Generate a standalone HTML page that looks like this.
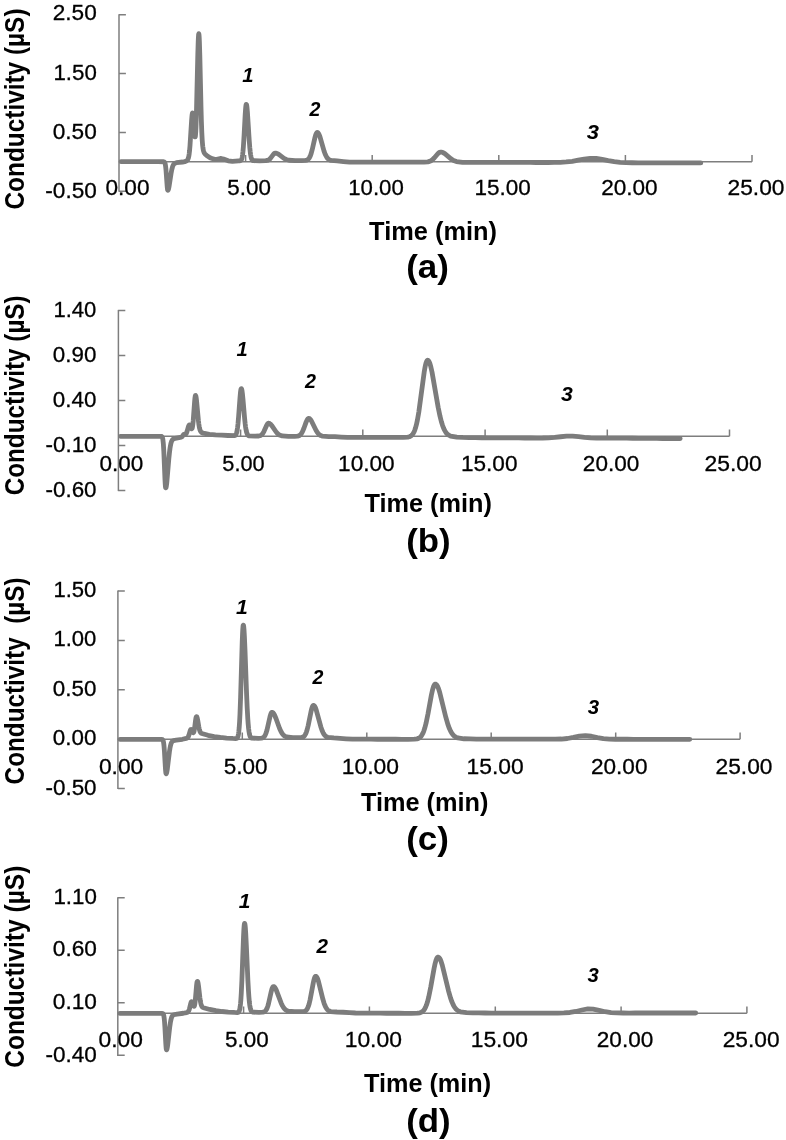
<!DOCTYPE html>
<html lang="en">
<head>
<meta charset="utf-8">
<title>Chromatograms (a)-(d): Conductivity vs Time</title>
<style>
html,body{margin:0;padding:0;background:#fff;}
body{width:786px;height:1140px;overflow:hidden;}
svg{display:block;will-change:transform;font-family:"Liberation Sans",sans-serif;}
</style>
</head>
<body>
<svg width="786" height="1140" viewBox="0 0 786 1140" role="img" aria-label="Four ion chromatograms">
<rect width="786" height="1140" fill="#fff"/>
<g stroke="#7e7e7e" stroke-width="1.5" fill="none">
<path d="M119 14.2V191.8"/>
<path d="M119 161.8H752.0"/>
<path d="M119 14.8h6.9M119 73.6h6.9M119 132.4h6.9M119 191.2h6.9M245.6 161.8v-6.9M372.2 161.8v-6.9M498.8 161.8v-6.9M625.4 161.8v-6.9M752.0 161.8v-6.9"/>
</g>
<path d="M121.0 161.70 L127.0 161.70 L133.2 161.70 L139.4 161.70 L145.6 161.70 L151.8 161.70 L158.0 161.70 L163.6 161.74 L164.0 161.82 L164.2 161.91 L164.4 162.06 L164.6 162.30 L164.8 162.65 L165.0 163.18 L165.2 163.92 L165.4 164.94 L165.6 166.29 L166.0 170.10 L167.2 186.66 L167.4 188.62 L167.6 189.87 L167.8 190.30 L168.0 190.25 L168.2 189.95 L168.4 189.44 L168.6 188.74 L169.0 186.86 L171.2 172.70 L171.8 169.65 L172.4 167.29 L172.8 166.09 L173.2 165.16 L173.6 164.45 L174.0 163.93 L174.4 163.55 L175.0 163.16 L176.4 162.70 L182.6 162.00 L184.8 161.68 L185.8 161.32 L186.6 160.83 L187.2 160.28 L187.6 159.76 L188.0 159.02 L188.4 157.92 L188.8 156.28 L189.2 153.84 L189.6 150.36 L190.0 145.65 L191.6 120.48 L192.0 115.76 L192.2 114.17 L192.4 113.20 L192.6 112.91 L192.8 113.31 L193.0 114.38 L193.2 116.08 L193.6 120.93 L194.4 132.31 L194.6 134.51 L194.8 136.10 L195.0 136.95 L195.2 136.92 L195.4 135.91 L195.6 133.84 L195.8 130.64 L196.0 126.31 L196.4 114.38 L197.8 54.93 L198.2 41.78 L198.4 37.34 L198.6 34.59 L198.8 33.67 L199.0 34.62 L199.2 37.39 L199.4 41.88 L199.8 54.88 L201.0 107.25 L201.4 121.63 L201.8 132.41 L202.2 139.89 L202.4 142.69 L202.6 144.95 L202.8 146.78 L203.0 148.26 L203.2 149.45 L203.4 150.40 L203.6 151.18 L204.0 152.32 L204.4 153.10 L205.0 153.93 L207.0 155.76 L210.0 157.67 L213.0 158.90 L215.0 159.31 L216.6 159.28 L220.2 158.50 L221.2 158.50 L223.6 159.11 L228.2 160.76 L232.4 161.34 L238.6 160.86 L240.0 160.74 L240.4 160.63 L240.8 160.43 L241.0 160.26 L241.2 160.02 L241.4 159.71 L241.6 159.30 L241.8 158.76 L242.0 158.07 L242.2 157.20 L242.6 154.79 L243.0 151.28 L243.4 146.51 L244.0 136.99 L245.2 114.40 L245.6 108.61 L245.8 106.52 L246.0 105.08 L246.2 104.35 L246.4 104.32 L246.6 104.86 L246.8 105.92 L247.0 107.46 L247.4 111.85 L249.2 140.05 L249.8 147.68 L250.2 151.59 L250.6 154.58 L251.0 156.77 L251.4 158.29 L251.8 159.31 L252.0 159.67 L252.4 160.18 L252.8 160.48 L253.4 160.71 L259.6 160.82 L265.8 160.69 L267.4 160.41 L268.4 160.02 L269.2 159.52 L270.2 158.61 L273.4 154.35 L274.0 153.72 L274.4 153.41 L274.8 153.21 L275.2 153.11 L276.2 153.20 L277.2 153.52 L278.8 154.43 L284.0 158.38 L286.2 159.50 L289.0 160.25 L295.2 160.59 L301.4 160.60 L305.4 160.45 L306.6 160.18 L307.4 159.83 L308.0 159.42 L308.6 158.84 L309.2 158.05 L309.8 157.01 L310.4 155.67 L311.2 153.38 L312.2 149.73 L315.0 137.40 L315.6 135.27 L316.0 134.14 L316.4 133.27 L316.6 132.95 L316.8 132.71 L317.0 132.55 L317.2 132.47 L317.4 132.46 L317.6 132.52 L317.8 132.62 L318.2 132.99 L318.6 133.57 L319.2 134.77 L320.0 136.93 L324.0 150.92 L325.2 154.23 L326.2 156.35 L327.0 157.64 L327.8 158.61 L328.6 159.32 L329.6 159.91 L331.0 160.37 L337.2 160.95 L343.4 161.61 L349.6 162.14 L355.8 162.20 L362.0 162.20 L368.2 162.20 L374.4 162.20 L380.6 162.20 L386.8 162.20 L393.0 162.20 L399.2 162.20 L405.4 162.20 L411.6 162.20 L417.8 162.20 L424.0 162.17 L427.8 161.87 L429.6 161.39 L431.0 160.73 L432.4 159.74 L434.4 157.74 L437.8 153.74 L438.8 152.85 L439.6 152.36 L440.2 152.14 L440.8 152.08 L441.8 152.18 L443.0 152.58 L444.8 153.64 L451.0 158.81 L453.6 160.43 L456.4 161.51 L462.6 162.31 L468.8 162.40 L475.0 162.40 L481.2 162.40 L487.4 162.41 L493.6 162.42 L499.8 162.43 L506.0 162.44 L512.2 162.45 L518.2 162.46 L524.2 162.47 L530.2 162.47 L536.2 162.48 L542.2 162.49 L548.2 162.48 L554.2 162.45 L560.2 162.31 L566.2 161.97 L572.2 161.28 L578.2 160.23 L584.2 159.09 L590.2 158.37 L596.2 158.48 L602.2 159.37 L608.2 160.58 L614.2 161.63 L620.2 162.30 L626.2 162.62 L632.2 162.75 L638.2 162.79 L644.2 162.80 L650.2 162.81 L656.2 162.82 L662.2 162.83 L668.2 162.84 L674.2 162.86 L680.2 162.87 L686.2 162.89 L692.2 162.89 L698.2 162.90 L700.8 162.90" fill="none" stroke="#7c7c7c" stroke-width="4.8" stroke-linecap="round" stroke-linejoin="round"/>
<text x="52.77" y="20.48" textLength="44.02" lengthAdjust="spacingAndGlyphs" font-size="22.32" font-weight="400" stroke="#000" stroke-width="0.3" fill="#000">2.50</text>
<text x="53.41" y="79.58" textLength="43.37" lengthAdjust="spacingAndGlyphs" font-size="22.46" font-weight="400" stroke="#000" stroke-width="0.3" fill="#000">1.50</text>
<text x="52.72" y="138.88" textLength="44.07" lengthAdjust="spacingAndGlyphs" font-size="22.32" font-weight="400" stroke="#000" stroke-width="0.3" fill="#000">0.50</text>
<text x="45.31" y="197.78" textLength="51.48" lengthAdjust="spacingAndGlyphs" font-size="22.32" font-weight="400" stroke="#000" stroke-width="0.3" fill="#000">-0.50</text>
<text x="105.42" y="195.47" textLength="44.07" lengthAdjust="spacingAndGlyphs" font-size="22.88" font-weight="400" stroke="#000" stroke-width="0.3" fill="#000">0.00</text>
<text x="227.30" y="195.47" textLength="43.58" lengthAdjust="spacingAndGlyphs" font-size="22.88" font-weight="400" stroke="#000" stroke-width="0.3" fill="#000">5.00</text>
<text x="348.21" y="195.47" textLength="55.56" lengthAdjust="spacingAndGlyphs" font-size="22.88" font-weight="400" stroke="#000" stroke-width="0.3" fill="#000">10.00</text>
<text x="474.49" y="195.47" textLength="56.30" lengthAdjust="spacingAndGlyphs" font-size="22.88" font-weight="400" stroke="#000" stroke-width="0.3" fill="#000">15.00</text>
<text x="601.17" y="195.47" textLength="56.52" lengthAdjust="spacingAndGlyphs" font-size="22.88" font-weight="400" stroke="#000" stroke-width="0.3" fill="#000">20.00</text>
<text x="727.46" y="195.47" textLength="57.04" lengthAdjust="spacingAndGlyphs" font-size="22.88" font-weight="400" stroke="#000" stroke-width="0.3" fill="#000">25.00</text>
<text x="242.17" y="81.80" textLength="11.33" lengthAdjust="spacingAndGlyphs" font-size="20.49" font-weight="700" font-style="italic" fill="#000">1</text>
<text x="309.41" y="116.30" textLength="10.89" lengthAdjust="spacingAndGlyphs" font-size="19.63" font-weight="700" font-style="italic" fill="#000">2</text>
<text x="586.82" y="138.61" textLength="12.22" lengthAdjust="spacingAndGlyphs" font-size="19.49" font-weight="700" font-style="italic" fill="#000">3</text>
<text x="369.12" y="240.00" textLength="127.84" lengthAdjust="spacingAndGlyphs" font-size="25.87" font-weight="700" fill="#000">Time (min)</text>
<text xml:space="preserve" style="white-space:pre" transform="translate(23.70 209.50) rotate(-90)" textLength="201.01" lengthAdjust="spacingAndGlyphs" font-size="26.89" font-weight="700" fill="#000">Conductivity (µS)</text>
<text x="406.15" y="278.16" textLength="42.70" lengthAdjust="spacingAndGlyphs" font-size="33.90" font-weight="700" fill="#000">(a)</text>
<g stroke="#7e7e7e" stroke-width="1.5" fill="none">
<path d="M118.4 309.9V491.1"/>
<path d="M118.4 436.3H729.5"/>
<path d="M118.4 310.5h6.9M118.4 355.5h6.9M118.4 400.5h6.9M118.4 445.5h6.9M118.4 490.5h6.9M240.6 436.3v-6.9M362.8 436.3v-6.9M485.1 436.3v-6.9M607.3 436.3v-6.9M729.5 436.3v-6.9"/>
</g>
<path d="M120.4 436.30 L126.4 436.30 L132.6 436.30 L138.8 436.30 L145.0 436.30 L151.2 436.30 L157.4 436.30 L161.2 436.35 L161.6 436.45 L161.8 436.56 L162.0 436.74 L162.2 437.03 L162.4 437.48 L162.6 438.13 L162.8 439.08 L163.0 440.41 L163.2 442.19 L163.4 444.52 L163.8 451.03 L165.0 479.83 L165.2 483.61 L165.4 486.31 L165.6 487.72 L165.8 487.85 L166.0 487.57 L166.2 486.83 L166.4 485.74 L166.8 482.60 L168.8 459.12 L169.4 453.16 L170.0 448.41 L170.4 445.93 L170.8 443.97 L171.2 442.46 L171.6 441.32 L172.0 440.49 L172.4 439.89 L172.8 439.45 L173.4 439.00 L175.2 438.28 L181.4 437.06 L181.8 436.89 L182.0 436.76 L182.6 436.02 L183.4 434.80 L183.6 434.54 L183.8 434.35 L184.0 434.24 L184.4 434.17 L185.2 434.26 L185.4 434.25 L185.6 434.19 L185.8 434.07 L186.0 433.87 L186.2 433.60 L186.6 432.80 L187.0 431.68 L188.4 426.72 L188.8 425.67 L189.0 425.30 L189.2 425.05 L189.4 424.93 L189.6 424.96 L189.8 425.14 L190.0 425.45 L190.4 426.34 L191.0 427.90 L191.2 428.32 L191.4 428.64 L191.6 428.80 L191.8 428.77 L192.0 428.53 L192.2 428.03 L192.4 427.25 L192.6 426.16 L192.8 424.74 L193.2 420.92 L194.6 401.69 L194.8 399.41 L195.0 397.58 L195.2 396.29 L195.4 395.60 L195.6 395.52 L195.8 395.90 L196.0 396.69 L196.2 397.87 L196.6 401.16 L198.4 420.41 L198.8 423.78 L199.2 426.45 L199.6 428.45 L200.0 429.89 L200.4 430.89 L200.8 431.58 L201.2 432.07 L201.8 432.55 L203.2 433.20 L209.4 434.33 L215.6 434.85 L221.8 435.21 L228.0 435.49 L234.0 435.63 L234.6 435.54 L235.0 435.39 L235.4 435.13 L235.8 434.67 L236.0 434.34 L236.4 433.41 L236.8 432.01 L237.2 430.00 L237.6 427.25 L238.0 423.68 L238.6 416.81 L240.0 397.56 L240.4 393.12 L240.6 391.38 L240.8 390.03 L241.0 389.11 L241.2 388.64 L241.4 388.63 L241.6 388.97 L241.8 389.65 L242.0 390.65 L242.4 393.52 L243.0 399.51 L244.6 418.31 L245.2 424.03 L245.6 427.10 L246.0 429.58 L246.4 431.50 L246.8 432.93 L247.2 433.98 L247.6 434.70 L248.0 435.20 L248.4 435.53 L249.0 435.81 L255.2 436.11 L258.8 436.00 L260.0 435.74 L260.8 435.38 L261.6 434.82 L262.2 434.21 L263.0 433.12 L264.0 431.29 L266.6 425.41 L267.2 424.35 L267.6 423.82 L268.0 423.45 L268.2 423.34 L268.4 423.27 L268.8 423.26 L269.4 423.41 L270.0 423.74 L270.8 424.42 L272.0 425.86 L276.0 431.75 L277.4 433.37 L278.8 434.55 L280.2 435.33 L282.2 435.95 L288.4 436.34 L294.6 436.34 L297.4 436.15 L298.6 435.84 L299.4 435.47 L300.2 434.89 L301.0 434.06 L301.8 432.91 L302.6 431.41 L304.0 428.01 L306.2 421.90 L307.0 420.12 L307.4 419.43 L307.8 418.91 L308.2 418.57 L308.4 418.47 L308.6 418.42 L309.0 418.45 L309.4 418.60 L309.8 418.86 L310.4 419.45 L311.2 420.56 L316.0 430.29 L317.4 432.55 L318.6 433.99 L319.6 434.86 L320.8 435.58 L322.6 436.18 L328.8 436.58 L335.0 436.72 L341.2 437.07 L347.4 437.36 L353.6 437.40 L359.8 437.40 L366.0 437.40 L372.2 437.40 L378.4 437.40 L384.6 437.40 L390.8 437.40 L397.0 437.40 L403.2 437.38 L407.8 437.12 L409.4 436.74 L410.6 436.19 L411.4 435.62 L412.2 434.85 L413.0 433.80 L413.8 432.41 L414.6 430.60 L415.4 428.32 L416.4 424.69 L417.4 420.12 L418.8 412.08 L424.2 372.13 L425.0 367.46 L425.6 364.62 L426.0 363.09 L426.4 361.88 L426.8 360.99 L427.0 360.68 L427.2 360.45 L427.4 360.31 L427.6 360.25 L427.8 360.27 L428.0 360.34 L428.2 360.47 L428.6 360.88 L429.0 361.50 L429.4 362.32 L430.0 363.93 L430.8 366.70 L432.0 372.01 L438.2 407.47 L440.0 416.21 L441.4 421.75 L442.6 425.59 L443.8 428.66 L445.0 431.03 L446.2 432.82 L447.4 434.13 L448.8 435.21 L450.6 436.09 L456.8 437.16 L463.0 437.46 L469.2 437.61 L475.4 437.69 L481.6 437.75 L487.8 437.79 L494.0 437.83 L500.2 437.86 L506.4 437.90 L512.6 437.93 L518.6 437.96 L524.6 438.00 L530.6 438.02 L536.6 438.03 L542.6 437.99 L548.6 437.81 L554.6 437.38 L560.6 436.76 L566.6 436.22 L572.6 436.15 L578.6 436.61 L584.6 437.27 L590.6 437.78 L596.6 438.05 L602.6 438.15 L608.6 438.19 L614.6 438.20 L620.6 438.20 L626.6 438.21 L632.6 438.24 L638.6 438.29 L644.6 438.34 L650.6 438.40 L656.6 438.46 L662.6 438.51 L668.6 438.56 L674.6 438.59 L680.2 438.60" fill="none" stroke="#7c7c7c" stroke-width="4.8" stroke-linecap="round" stroke-linejoin="round"/>
<text x="53.42" y="316.68" textLength="42.94" lengthAdjust="spacingAndGlyphs" font-size="22.32" font-weight="400" stroke="#000" stroke-width="0.3" fill="#000">1.40</text>
<text x="52.83" y="361.68" textLength="43.55" lengthAdjust="spacingAndGlyphs" font-size="22.32" font-weight="400" stroke="#000" stroke-width="0.3" fill="#000">0.90</text>
<text x="52.83" y="406.68" textLength="43.55" lengthAdjust="spacingAndGlyphs" font-size="22.32" font-weight="400" stroke="#000" stroke-width="0.3" fill="#000">0.40</text>
<text x="45.51" y="451.68" textLength="51.07" lengthAdjust="spacingAndGlyphs" font-size="22.32" font-weight="400" stroke="#000" stroke-width="0.3" fill="#000">-0.10</text>
<text x="45.51" y="496.68" textLength="51.07" lengthAdjust="spacingAndGlyphs" font-size="22.32" font-weight="400" stroke="#000" stroke-width="0.3" fill="#000">-0.60</text>
<text x="99.42" y="470.78" textLength="43.86" lengthAdjust="spacingAndGlyphs" font-size="22.32" font-weight="400" stroke="#000" stroke-width="0.3" fill="#000">0.00</text>
<text x="222.33" y="470.78" textLength="42.32" lengthAdjust="spacingAndGlyphs" font-size="22.32" font-weight="400" stroke="#000" stroke-width="0.3" fill="#000">5.00</text>
<text x="338.08" y="470.78" textLength="56.61" lengthAdjust="spacingAndGlyphs" font-size="22.32" font-weight="400" stroke="#000" stroke-width="0.3" fill="#000">10.00</text>
<text x="460.98" y="470.78" textLength="56.51" lengthAdjust="spacingAndGlyphs" font-size="22.32" font-weight="400" stroke="#000" stroke-width="0.3" fill="#000">15.00</text>
<text x="582.87" y="470.78" textLength="56.42" lengthAdjust="spacingAndGlyphs" font-size="22.32" font-weight="400" stroke="#000" stroke-width="0.3" fill="#000">20.00</text>
<text x="704.56" y="470.78" textLength="57.25" lengthAdjust="spacingAndGlyphs" font-size="22.32" font-weight="400" stroke="#000" stroke-width="0.3" fill="#000">25.00</text>
<text x="236.58" y="356.40" textLength="11.21" lengthAdjust="spacingAndGlyphs" font-size="20.20" font-weight="700" font-style="italic" fill="#000">1</text>
<text x="305.02" y="388.40" textLength="10.98" lengthAdjust="spacingAndGlyphs" font-size="19.91" font-weight="700" font-style="italic" fill="#000">2</text>
<text x="561.03" y="401.41" textLength="11.81" lengthAdjust="spacingAndGlyphs" font-size="19.35" font-weight="700" font-style="italic" fill="#000">3</text>
<text x="364.42" y="511.80" textLength="127.53" lengthAdjust="spacingAndGlyphs" font-size="25.58" font-weight="700" fill="#000">Time (min)</text>
<text xml:space="preserve" style="white-space:pre" transform="translate(23.70 495.29) rotate(-90)" textLength="199.90" lengthAdjust="spacingAndGlyphs" font-size="26.89" font-weight="700" fill="#000">Conductivity (µS)</text>
<text x="406.16" y="552.07" textLength="44.48" lengthAdjust="spacingAndGlyphs" font-size="33.40" font-weight="700" fill="#000">(b)</text>
<g stroke="#7e7e7e" stroke-width="1.5" fill="none">
<path d="M117.9 590.4V789.0"/>
<path d="M117.9 739.3H740.1"/>
<path d="M117.9 591.0h6.9M117.9 640.4h6.9M117.9 689.7h6.9M117.9 739.0h6.9M117.9 788.4h6.9M242.3 739.3v-6.9M366.8 739.3v-6.9M491.2 739.3v-6.9M615.7 739.3v-6.9M740.1 739.3v-6.9"/>
</g>
<path d="M120.0 739.40 L126.0 739.40 L132.2 739.40 L138.4 739.40 L144.6 739.40 L150.8 739.40 L157.0 739.40 L161.8 739.43 L162.2 739.51 L162.4 739.59 L162.6 739.73 L162.8 739.96 L163.0 740.31 L163.2 740.83 L163.4 741.58 L163.6 742.63 L163.8 744.04 L164.0 745.87 L164.4 750.90 L165.4 767.90 L165.6 770.61 L165.8 772.55 L166.0 773.63 L166.2 773.73 L166.4 773.47 L166.6 772.94 L166.8 772.15 L167.2 769.90 L169.4 751.93 L170.0 748.11 L170.4 746.10 L170.8 744.51 L171.2 743.30 L171.6 742.40 L172.0 741.76 L172.4 741.31 L172.8 741.00 L173.6 740.61 L176.0 740.15 L176.2 740.07 L182.4 739.26 L186.2 738.45 L187.0 738.13 L187.4 737.85 L187.8 737.44 L188.2 736.84 L188.6 736.01 L189.0 734.88 L190.2 730.71 L190.4 730.17 L190.6 729.77 L190.8 729.52 L191.2 729.35 L191.4 729.51 L191.6 729.78 L192.0 730.58 L192.6 731.98 L192.8 732.36 L193.0 732.64 L193.2 732.78 L193.4 732.76 L193.6 732.53 L193.8 732.08 L194.0 731.40 L194.2 730.49 L194.6 728.00 L195.6 720.11 L195.8 718.80 L196.0 717.75 L196.2 717.02 L196.4 716.65 L196.6 716.58 L196.8 716.77 L197.0 717.19 L197.2 717.86 L197.6 719.72 L198.8 726.76 L199.2 728.73 L199.6 730.29 L200.0 731.46 L200.4 732.28 L200.8 732.83 L201.2 733.19 L201.8 733.54 L208.0 735.31 L214.2 736.57 L220.4 737.43 L226.6 738.02 L232.8 738.44 L235.8 738.54 L236.4 738.46 L236.8 738.30 L237.0 738.17 L237.2 737.98 L237.4 737.73 L237.6 737.39 L237.8 736.93 L238.0 736.34 L238.2 735.56 L238.4 734.58 L238.6 733.34 L238.8 731.79 L239.2 727.60 L239.6 721.61 L240.0 713.53 L240.6 697.28 L242.2 642.56 L242.6 632.48 L242.8 628.89 L243.0 626.42 L243.2 625.17 L243.4 625.10 L243.6 625.88 L243.8 627.43 L244.0 629.71 L244.4 636.30 L245.0 650.15 L246.6 694.35 L247.2 708.13 L247.8 718.86 L248.2 724.30 L248.6 728.50 L249.0 731.63 L249.4 733.90 L249.8 735.48 L250.2 736.55 L250.6 737.24 L251.0 737.69 L251.4 737.96 L252.0 738.17 L258.2 738.33 L261.4 738.14 L262.4 737.89 L263.2 737.51 L263.8 737.06 L264.4 736.40 L265.0 735.49 L265.6 734.26 L266.2 732.68 L267.0 729.98 L270.0 716.68 L270.6 714.56 L271.0 713.49 L271.2 713.07 L271.4 712.74 L271.6 712.50 L271.8 712.35 L272.0 712.29 L272.4 712.35 L272.8 712.55 L273.2 712.89 L273.8 713.65 L274.6 715.09 L276.0 718.48 L279.6 728.46 L281.0 731.53 L282.0 733.25 L283.0 734.58 L284.0 735.58 L285.2 736.40 L286.6 736.98 L292.8 737.58 L299.0 737.62 L301.6 737.43 L302.6 737.15 L303.4 736.74 L304.0 736.27 L304.6 735.62 L305.2 734.73 L305.8 733.56 L306.4 732.07 L307.2 729.53 L308.2 725.49 L311.2 710.80 L311.8 708.47 L312.2 707.23 L312.6 706.29 L312.8 705.94 L313.0 705.67 L313.2 705.50 L313.4 705.41 L313.6 705.41 L313.8 705.46 L314.0 705.56 L314.4 705.93 L314.8 706.49 L315.4 707.67 L316.2 709.82 L320.8 726.70 L322.0 730.23 L323.0 732.55 L323.8 734.00 L324.6 735.13 L325.4 735.98 L326.4 736.73 L327.6 737.29 L333.8 737.96 L340.0 738.33 L346.2 738.78 L352.4 739.13 L358.6 739.20 L364.8 739.20 L371.0 739.21 L377.2 739.23 L383.4 739.24 L389.6 739.25 L395.8 739.27 L402.0 739.28 L408.2 739.29 L414.4 739.19 L417.0 738.85 L418.4 738.39 L419.4 737.84 L420.4 737.03 L421.2 736.14 L422.0 734.97 L422.8 733.47 L423.8 731.07 L424.8 728.01 L426.0 723.42 L428.0 713.72 L431.4 695.04 L432.4 690.48 L433.2 687.58 L433.8 685.93 L434.2 685.11 L434.6 684.53 L434.8 684.34 L435.0 684.20 L435.2 684.13 L435.4 684.11 L435.8 684.20 L436.2 684.45 L436.6 684.84 L437.0 685.39 L437.6 686.46 L438.4 688.35 L439.6 692.01 L445.8 717.21 L447.8 724.16 L449.4 728.56 L450.8 731.55 L452.0 733.53 L453.2 735.04 L454.4 736.17 L455.8 737.10 L457.8 737.92 L464.0 738.77 L470.2 738.97 L476.4 739.07 L482.6 739.12 L488.8 739.15 L495.0 739.17 L501.2 739.18 L507.4 739.19 L513.4 739.19 L519.4 739.20 L525.4 739.20 L531.4 739.21 L537.4 739.21 L543.4 739.21 L549.4 739.21 L555.4 739.18 L561.4 739.02 L567.4 738.50 L573.4 737.46 L579.4 736.21 L585.4 735.64 L591.4 736.26 L597.4 737.52 L603.4 738.56 L609.4 739.06 L615.4 739.23 L621.4 739.26 L627.4 739.27 L633.4 739.28 L639.4 739.28 L645.4 739.29 L651.4 739.29 L657.4 739.29 L663.4 739.29 L669.4 739.30 L675.4 739.30 L681.4 739.30 L687.4 739.30 L689.8 739.30" fill="none" stroke="#7c7c7c" stroke-width="4.8" stroke-linecap="round" stroke-linejoin="round"/>
<text x="53.42" y="596.88" textLength="42.94" lengthAdjust="spacingAndGlyphs" font-size="22.18" font-weight="400" stroke="#000" stroke-width="0.3" fill="#000">1.50</text>
<text x="53.42" y="646.28" textLength="42.94" lengthAdjust="spacingAndGlyphs" font-size="22.18" font-weight="400" stroke="#000" stroke-width="0.3" fill="#000">1.00</text>
<text x="52.83" y="695.88" textLength="43.55" lengthAdjust="spacingAndGlyphs" font-size="22.18" font-weight="400" stroke="#000" stroke-width="0.3" fill="#000">0.50</text>
<text x="52.83" y="745.48" textLength="43.55" lengthAdjust="spacingAndGlyphs" font-size="22.18" font-weight="400" stroke="#000" stroke-width="0.3" fill="#000">0.00</text>
<text x="45.51" y="795.08" textLength="51.07" lengthAdjust="spacingAndGlyphs" font-size="22.18" font-weight="400" stroke="#000" stroke-width="0.3" fill="#000">-0.50</text>
<text x="98.91" y="773.68" textLength="44.39" lengthAdjust="spacingAndGlyphs" font-size="22.46" font-weight="400" stroke="#000" stroke-width="0.3" fill="#000">0.00</text>
<text x="223.80" y="773.68" textLength="43.78" lengthAdjust="spacingAndGlyphs" font-size="22.46" font-weight="400" stroke="#000" stroke-width="0.3" fill="#000">5.00</text>
<text x="341.76" y="773.68" textLength="57.24" lengthAdjust="spacingAndGlyphs" font-size="22.46" font-weight="400" stroke="#000" stroke-width="0.3" fill="#000">10.00</text>
<text x="466.46" y="773.68" textLength="57.24" lengthAdjust="spacingAndGlyphs" font-size="22.46" font-weight="400" stroke="#000" stroke-width="0.3" fill="#000">15.00</text>
<text x="590.97" y="773.68" textLength="56.52" lengthAdjust="spacingAndGlyphs" font-size="22.46" font-weight="400" stroke="#000" stroke-width="0.3" fill="#000">20.00</text>
<text x="715.56" y="773.68" textLength="56.94" lengthAdjust="spacingAndGlyphs" font-size="22.46" font-weight="400" stroke="#000" stroke-width="0.3" fill="#000">25.00</text>
<text x="236.06" y="614.20" textLength="11.79" lengthAdjust="spacingAndGlyphs" font-size="20.06" font-weight="700" font-style="italic" fill="#000">1</text>
<text x="312.61" y="683.70" textLength="10.89" lengthAdjust="spacingAndGlyphs" font-size="19.63" font-weight="700" font-style="italic" fill="#000">2</text>
<text x="587.84" y="713.50" textLength="11.39" lengthAdjust="spacingAndGlyphs" font-size="20.06" font-weight="700" font-style="italic" fill="#000">3</text>
<text x="360.92" y="811.20" textLength="127.53" lengthAdjust="spacingAndGlyphs" font-size="25.44" font-weight="700" fill="#000">Time (min)</text>
<text xml:space="preserve" style="white-space:pre" transform="translate(23.70 784.40) rotate(-90)" textLength="206.90" lengthAdjust="spacingAndGlyphs" font-size="26.89" font-weight="700" fill="#000">Conductivity  (µS)</text>
<text x="406.15" y="850.36" textLength="42.70" lengthAdjust="spacingAndGlyphs" font-size="33.90" font-weight="700" fill="#000">(c)</text>
<g stroke="#7e7e7e" stroke-width="1.5" fill="none">
<path d="M117.8 897.2V1055.9"/>
<path d="M117.8 1013.3H746.9"/>
<path d="M117.8 897.8h6.9M117.8 950.3h6.9M117.8 1002.8h6.9M117.8 1055.3h6.9M243.6 1013.3v-6.9M369.4 1013.3v-6.9M495.3 1013.3v-6.9M621.1 1013.3v-6.9M746.9 1013.3v-6.9"/>
</g>
<path d="M119.9 1013.40 L125.9 1013.40 L132.1 1013.40 L138.3 1013.40 L144.5 1013.40 L150.7 1013.40 L156.9 1013.40 L162.1 1013.42 L162.5 1013.49 L162.7 1013.55 L162.9 1013.67 L163.1 1013.86 L163.3 1014.16 L163.5 1014.61 L163.7 1015.28 L163.9 1016.23 L164.1 1017.52 L164.3 1019.24 L164.5 1021.42 L164.9 1027.23 L165.7 1041.98 L165.9 1045.17 L166.1 1047.66 L166.3 1049.25 L166.5 1049.86 L166.7 1049.72 L166.9 1049.29 L167.1 1048.58 L167.3 1047.62 L167.7 1045.00 L169.7 1027.34 L170.3 1023.12 L170.7 1020.89 L171.1 1019.11 L171.5 1017.74 L171.9 1016.72 L172.3 1015.99 L172.7 1015.47 L173.1 1015.11 L173.7 1014.76 L176.9 1014.10 L177.1 1014.02 L183.3 1013.25 L186.7 1012.56 L187.5 1012.25 L187.9 1011.97 L188.3 1011.54 L188.7 1010.88 L189.1 1009.91 L189.5 1008.63 L190.7 1003.56 L190.9 1002.84 L191.1 1002.27 L191.3 1001.86 L191.5 1001.65 L191.7 1001.64 L192.1 1001.96 L192.3 1002.37 L193.3 1005.31 L193.5 1005.81 L193.7 1006.18 L193.9 1006.38 L194.1 1006.37 L194.3 1006.10 L194.5 1005.55 L194.7 1004.69 L194.9 1003.51 L195.3 1000.18 L196.5 986.24 L196.7 984.33 L196.9 982.83 L197.1 981.82 L197.3 981.35 L197.5 981.34 L197.7 981.65 L197.9 982.28 L198.1 983.22 L198.5 985.87 L199.9 997.72 L200.3 1000.51 L200.7 1002.74 L201.1 1004.42 L201.5 1005.61 L201.9 1006.42 L202.3 1006.96 L202.7 1007.32 L203.5 1007.75 L209.7 1009.48 L215.9 1010.68 L222.1 1011.51 L228.3 1012.08 L234.5 1012.47 L237.3 1012.54 L237.9 1012.44 L238.3 1012.26 L238.5 1012.11 L238.7 1011.91 L238.9 1011.64 L239.1 1011.28 L239.3 1010.81 L239.5 1010.20 L239.7 1009.43 L239.9 1008.45 L240.1 1007.23 L240.5 1003.93 L240.9 999.23 L241.3 992.87 L241.9 980.09 L243.5 937.07 L243.9 929.14 L244.1 926.31 L244.3 924.38 L244.5 923.39 L244.7 923.34 L244.9 924.01 L245.1 925.33 L245.3 927.28 L245.7 932.88 L246.3 944.55 L247.9 980.55 L248.5 991.23 L248.9 996.87 L249.3 1001.34 L249.7 1004.76 L250.1 1007.27 L250.5 1009.05 L250.9 1010.27 L251.3 1011.07 L251.7 1011.58 L252.1 1011.90 L252.7 1012.15 L258.9 1012.34 L262.7 1012.18 L263.9 1011.88 L264.7 1011.48 L265.3 1011.00 L265.9 1010.32 L266.5 1009.37 L267.1 1008.10 L267.7 1006.47 L268.5 1003.72 L271.3 991.32 L271.9 989.13 L272.3 988.00 L272.7 987.18 L272.9 986.90 L273.1 986.70 L273.3 986.60 L273.5 986.59 L273.9 986.68 L274.3 986.92 L274.7 987.29 L275.3 988.10 L276.1 989.58 L281.1 1002.90 L282.5 1005.89 L283.5 1007.56 L284.5 1008.84 L285.5 1009.79 L286.7 1010.56 L288.3 1011.17 L294.5 1011.67 L300.7 1011.72 L303.5 1011.55 L304.5 1011.30 L305.3 1010.93 L305.9 1010.50 L306.5 1009.89 L307.1 1009.04 L307.7 1007.92 L308.3 1006.46 L309.1 1003.94 L310.1 999.80 L313.3 982.69 L313.9 980.04 L314.3 978.60 L314.7 977.48 L314.9 977.05 L315.1 976.72 L315.3 976.47 L315.5 976.33 L315.7 976.28 L315.9 976.31 L316.1 976.40 L316.3 976.54 L316.7 976.99 L317.1 977.66 L317.7 979.04 L318.5 981.47 L322.9 999.32 L324.1 1003.27 L325.1 1005.88 L325.9 1007.52 L326.7 1008.80 L327.5 1009.78 L328.3 1010.49 L329.3 1011.10 L330.7 1011.59 L336.9 1012.01 L343.1 1012.26 L349.3 1012.65 L355.5 1013.02 L361.7 1013.20 L367.9 1013.20 L374.1 1013.21 L380.3 1013.22 L386.5 1013.24 L392.7 1013.25 L398.9 1013.27 L405.1 1013.28 L411.3 1013.29 L417.5 1013.17 L419.9 1012.79 L421.3 1012.28 L422.3 1011.68 L423.1 1010.99 L423.9 1010.08 L424.7 1008.88 L425.5 1007.36 L426.5 1004.92 L427.5 1001.80 L428.7 997.13 L430.7 987.24 L434.1 968.23 L435.1 963.59 L435.9 960.63 L436.5 958.96 L436.9 958.13 L437.3 957.54 L437.5 957.34 L437.7 957.20 L437.9 957.13 L438.1 957.11 L438.5 957.21 L438.9 957.46 L439.3 957.86 L439.7 958.42 L440.3 959.51 L441.1 961.44 L442.3 965.19 L448.5 990.81 L450.5 997.87 L451.9 1001.84 L453.3 1004.98 L454.5 1007.08 L455.7 1008.69 L456.9 1009.89 L458.3 1010.89 L460.3 1011.77 L466.5 1012.68 L472.7 1012.88 L478.9 1012.97 L485.1 1013.02 L491.3 1013.05 L497.5 1013.07 L503.7 1013.08 L509.9 1013.09 L515.9 1013.09 L521.9 1013.09 L527.9 1013.09 L533.9 1013.09 L539.9 1013.09 L545.9 1013.09 L551.9 1013.08 L557.9 1013.05 L563.9 1012.93 L569.9 1012.49 L575.9 1011.47 L581.9 1009.99 L587.9 1008.93 L593.1 1009.08 L599.1 1010.32 L605.1 1011.74 L611.1 1012.61 L617.1 1012.93 L623.1 1013.01 L629.1 1013.03 L635.1 1013.02 L641.1 1013.02 L647.1 1013.02 L653.1 1013.01 L659.1 1013.01 L665.1 1013.01 L671.1 1013.00 L677.1 1013.00 L683.1 1013.00 L689.1 1013.00 L695.1 1013.00 L695.7 1013.00" fill="none" stroke="#7c7c7c" stroke-width="4.8" stroke-linecap="round" stroke-linejoin="round"/>
<text x="53.40" y="903.68" textLength="43.48" lengthAdjust="spacingAndGlyphs" font-size="22.03" font-weight="400" stroke="#000" stroke-width="0.3" fill="#000">1.10</text>
<text x="52.82" y="956.18" textLength="44.07" lengthAdjust="spacingAndGlyphs" font-size="22.03" font-weight="400" stroke="#000" stroke-width="0.3" fill="#000">0.60</text>
<text x="52.82" y="1008.88" textLength="44.07" lengthAdjust="spacingAndGlyphs" font-size="22.03" font-weight="400" stroke="#000" stroke-width="0.3" fill="#000">0.10</text>
<text x="45.51" y="1061.88" textLength="51.38" lengthAdjust="spacingAndGlyphs" font-size="22.03" font-weight="400" stroke="#000" stroke-width="0.3" fill="#000">-0.40</text>
<text x="98.51" y="1046.98" textLength="44.39" lengthAdjust="spacingAndGlyphs" font-size="22.32" font-weight="400" stroke="#000" stroke-width="0.3" fill="#000">0.00</text>
<text x="225.10" y="1046.98" textLength="43.68" lengthAdjust="spacingAndGlyphs" font-size="22.32" font-weight="400" stroke="#000" stroke-width="0.3" fill="#000">5.00</text>
<text x="344.66" y="1046.98" textLength="57.24" lengthAdjust="spacingAndGlyphs" font-size="22.32" font-weight="400" stroke="#000" stroke-width="0.3" fill="#000">10.00</text>
<text x="470.66" y="1046.98" textLength="57.24" lengthAdjust="spacingAndGlyphs" font-size="22.32" font-weight="400" stroke="#000" stroke-width="0.3" fill="#000">15.00</text>
<text x="596.77" y="1046.98" textLength="56.52" lengthAdjust="spacingAndGlyphs" font-size="22.32" font-weight="400" stroke="#000" stroke-width="0.3" fill="#000">20.00</text>
<text x="722.66" y="1046.98" textLength="56.94" lengthAdjust="spacingAndGlyphs" font-size="22.32" font-weight="400" stroke="#000" stroke-width="0.3" fill="#000">25.00</text>
<text x="238.86" y="908.30" textLength="11.67" lengthAdjust="spacingAndGlyphs" font-size="19.91" font-weight="700" font-style="italic" fill="#000">1</text>
<text x="316.53" y="953.00" textLength="11.48" lengthAdjust="spacingAndGlyphs" font-size="19.91" font-weight="700" font-style="italic" fill="#000">2</text>
<text x="587.44" y="982.11" textLength="11.29" lengthAdjust="spacingAndGlyphs" font-size="19.49" font-weight="700" font-style="italic" fill="#000">3</text>
<text x="364.02" y="1091.70" textLength="127.13" lengthAdjust="spacingAndGlyphs" font-size="25.44" font-weight="700" fill="#000">Time (min)</text>
<text xml:space="preserve" style="white-space:pre" transform="translate(23.70 1067.81) rotate(-90)" textLength="202.12" lengthAdjust="spacingAndGlyphs" font-size="26.89" font-weight="700" fill="#000">Conductivity (µS)</text>
<text x="406.16" y="1132.47" textLength="44.48" lengthAdjust="spacingAndGlyphs" font-size="33.40" font-weight="700" fill="#000">(d)</text>
</svg>
</body>
</html>
